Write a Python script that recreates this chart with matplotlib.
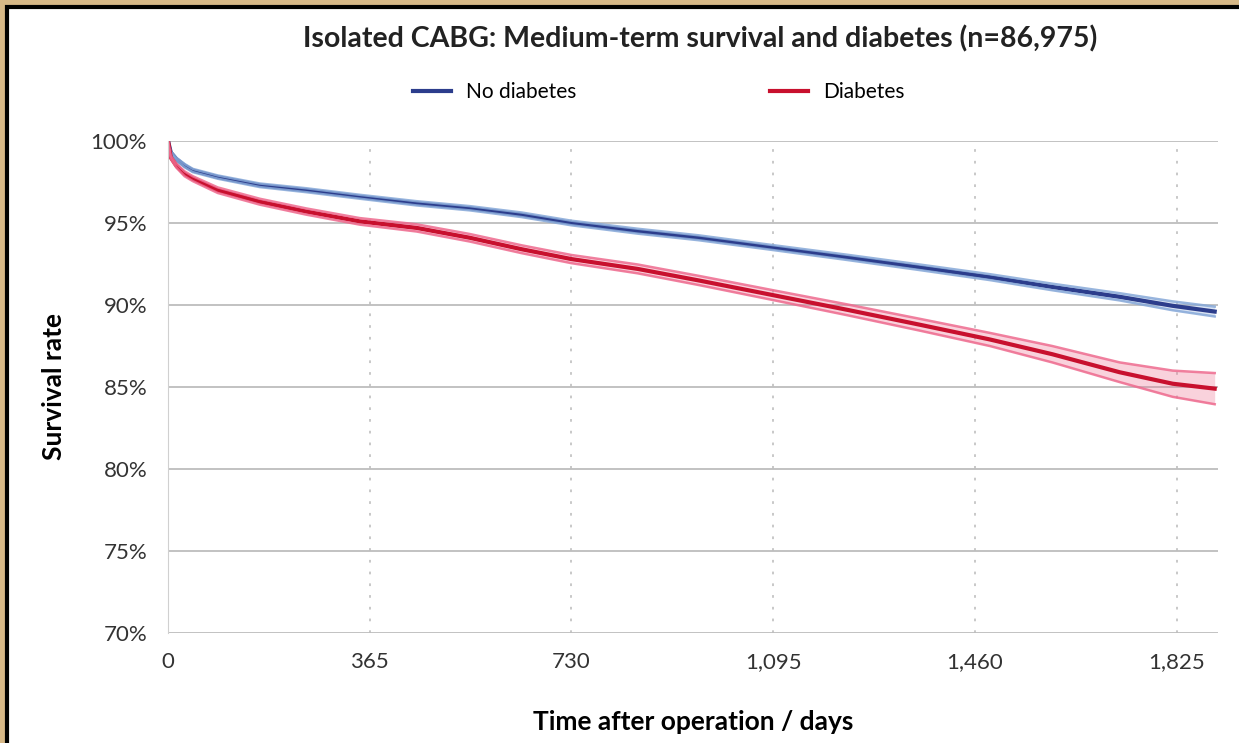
import matplotlib
matplotlib.use("Agg")
import matplotlib.pyplot as plt
from matplotlib.patches import Rectangle
import numpy as np

plt.rcParams['font.family'] = ['Lato', 'DejaVu Sans']

# survival curves (days, % surviving)
days = [0, 5, 15, 30, 45, 90, 166, 250, 347, 450, 546, 640, 730, 850, 960,
        1095, 1230, 1360, 1487, 1600, 1722, 1818, 1894]
no_diab = [100, 99.3, 98.9, 98.5, 98.2, 97.8, 97.3, 97.0, 96.6, 96.2, 95.9, 95.5,
           95.0, 94.5, 94.1, 93.5, 92.9, 92.3, 91.7, 91.1, 90.5, 89.95, 89.6]
no_diab_ci = [0, 0.05, 0.08, 0.1, 0.1, 0.1, 0.11, 0.12, 0.12, 0.13, 0.13, 0.14,
              0.14, 0.15, 0.15, 0.15, 0.16, 0.17, 0.18, 0.2, 0.22, 0.27, 0.3]
diab = [100, 99.0, 98.5, 98.0, 97.7, 97.0, 96.3, 95.7, 95.1, 94.7, 94.1, 93.4,
        92.8, 92.2, 91.5, 90.6, 89.7, 88.8, 87.9, 87.0, 85.9, 85.2, 84.9]
diab_ci = [0, 0.08, 0.12, 0.15, 0.15, 0.17, 0.18, 0.19, 0.2, 0.22, 0.23, 0.24,
           0.25, 0.27, 0.28, 0.3, 0.33, 0.36, 0.4, 0.5, 0.6, 0.8, 0.95]

xticks = [0, 365, 730, 1095, 1460, 1825]
yticks = [70, 75, 80, 85, 90, 95, 100]

fig = plt.figure(figsize=(12.39, 7.43), dpi=100)
fig.patch.set_facecolor('#d6b887')
fig.add_artist(Rectangle((7 / 1239, -0.01), 1.0, 1 - 7 / 743 + 0.01,
                         transform=fig.transFigure, facecolor='white',
                         edgecolor='black', linewidth=3, zorder=0))

ax = fig.add_axes([168 / 1239, 1 - 633 / 743, 1050 / 1239, 492 / 743])
ax.set_facecolor('none')

d = np.array(days)
for vals, ci, c_main, c_ci, lab in [
        (no_diab, no_diab_ci, '#2c3d8c', '#86a8d8', 'No diabetes'),
        (diab, diab_ci, '#c8102e', '#ee6a8e', 'Diabetes')]:
    v = np.array(vals)
    w = np.array(ci)
    ax.fill_between(d, v - w, v + w, color=c_ci, alpha=0.3, lw=0)
    ax.plot(d, v, color=c_main, lw=3, label=lab)
    ax.plot(d, v + w, color=c_ci, lw=1.8, alpha=0.85)
    ax.plot(d, v - w, color=c_ci, lw=1.8, alpha=0.85)

ax.set_xlim(0, 1900)
ax.set_ylim(70, 100)
ax.set_xticks(xticks)
ax.set_xticklabels(['{:,}'.format(t) for t in xticks])
ax.set_yticks(yticks)
ax.set_yticklabels(['{}%'.format(t) for t in yticks])
ax.tick_params(length=0, labelsize=16, colors='#333333')
ax.tick_params(axis='y', pad=15)
ax.tick_params(axis='x', pad=14)

ax.grid(axis='y', color='#bdbdbd', lw=1.3)
ax.grid(axis='x', color='#c4c4c4', lw=1.3, ls=(0, (1.5, 5)))
ax.set_axisbelow(True)
for s in ['top', 'right', 'bottom']:
    ax.spines[s].set_visible(False)
ax.spines['left'].set_color('#d0d0d0')

ax.set_ylabel('Survival rate', fontsize=19, fontweight='bold', labelpad=18)
ax.set_xlabel('Time after operation / days', fontsize=19, fontweight='bold', labelpad=27)

fig.text(0.565, 1 - 39 / 743, 'Isolated CABG: Medium-term survival and diabetes (n=86,975)',
         ha='center', va='center', fontsize=20.5, fontweight='bold', color='#222222')

ax.legend(loc='center', bbox_to_anchor=(0.532, 1 - 92 / 743), bbox_transform=fig.transFigure,
          ncol=2, frameon=False, fontsize=15, handlelength=1.8, columnspacing=9.3,
          handletextpad=0.75)

fig.savefig('out.png', dpi=100, facecolor=fig.get_facecolor())
